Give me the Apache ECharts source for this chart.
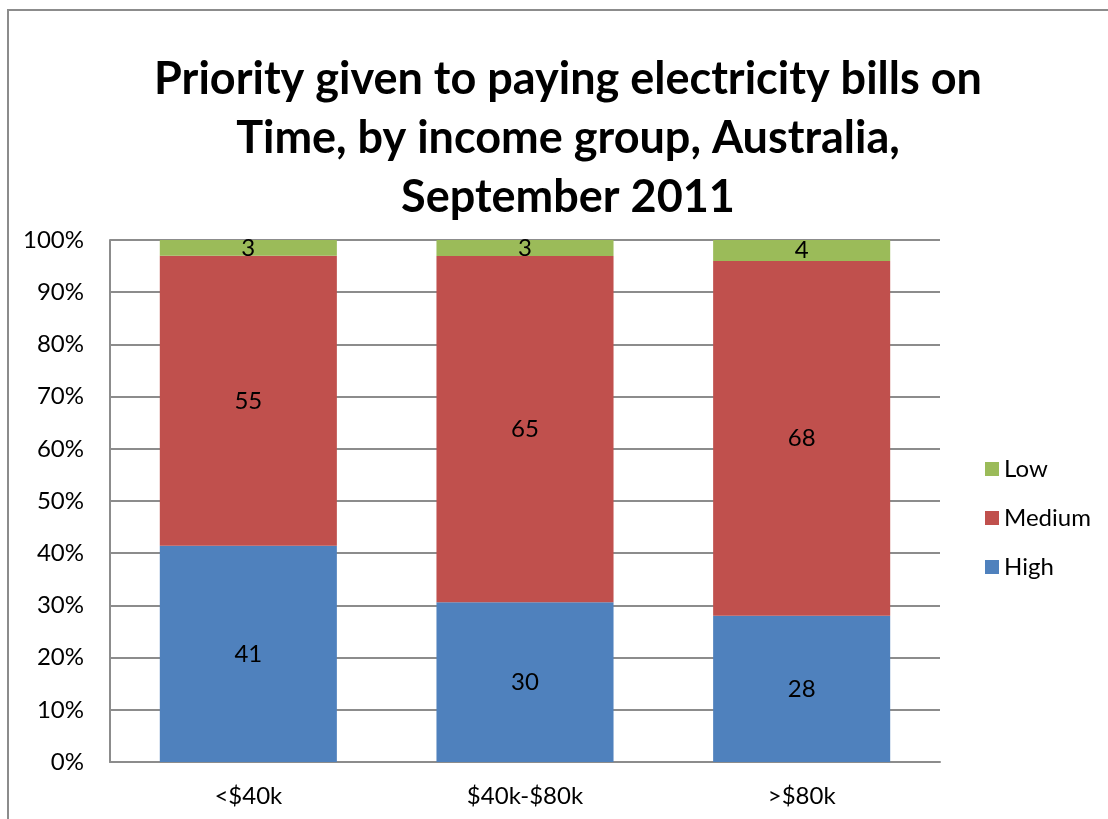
<!DOCTYPE html>
<html>
<head>
<meta charset="utf-8">
<script src="https://cdn.jsdelivr.net/npm/echarts@6/dist/echarts.min.js"></script>
<style>
  html, body { margin: 0; padding: 0; background: #fff; }
  #chart { width: 1108px; height: 819px; }
</style>
</head>
<body>
<div id="chart"></div>
<script>
// Income groups and survey responses (per cent of respondents)
const categories = ['<$40k', '$40k-$80k', '>$80k'];
const high = [41, 30, 28];
const medium = [55, 65, 68];
const low = [3, 3, 4];
const yTicks = ['0%', '10%', '20%', '30%', '40%', '50%', '60%', '70%', '80%', '90%', '100%'];

// 100% stacked: each column is scaled to its own total
const totals = categories.map((_, i) => high[i] + medium[i] + low[i]);
const share = arr => arr.map((v, i) => v / totals[i] * 100);

const FONT = 'Lato, "Open Sans", sans-serif';
const labelFont = { fontFamily: FONT, fontSize: 24, color: '#000' };

function seriesOf(name, raw, color) {
  return {
    name: name,
    type: 'bar',
    stack: 'total',
    barWidth: '64%',
    data: share(raw),
    itemStyle: { color: color },
    label: {
      show: true,
      position: 'inside',
      ...labelFont,
      formatter: p => String(raw[p.dataIndex])
    }
  };
}

const chart = echarts.init(document.getElementById('chart'), null, { renderer: 'canvas' });
chart.setOption({
  animation: false,
  backgroundColor: '#fff',
  graphic: [{
    type: 'rect',
    shape: { x: 8, y: 10, width: 1200, height: 900 },
    style: { fill: 'none', stroke: '#8c8c8c', lineWidth: 2 },
    z: -1
  }],
  title: {
    text: 'Priority given to paying electricity bills on\nTime, by income group, Australia,\nSeptember 2011',
    left: 563,
    textAlign: 'center',
    top: 45,
    textStyle: {
      fontFamily: FONT,
      fontWeight: 'bold',
      fontSize: 45,
      lineHeight: 59,
      color: '#000'
    }
  },
  legend: {
    orient: 'vertical',
    left: 980,
    top: 452,
    itemWidth: 14,
    itemHeight: 14,
    itemGap: 25,
    icon: 'rect',
    data: ['Low', 'Medium', 'High'],
    textStyle: { fontFamily: FONT, fontSize: 24, lineHeight: 24, color: '#000' }
  },
  grid: { left: 110, right: 168, top: 240, bottom: 57, containLabel: false },
  xAxis: {
    type: 'category',
    data: categories,
    axisLine: { lineStyle: { color: '#8c8c8c', width: 2 } },
    axisTick: { show: false },
    axisLabel: { ...labelFont, margin: 22 }
  },
  yAxis: {
    type: 'value',
    min: 0,
    max: 100,
    interval: 10,
    axisLine: { show: true, lineStyle: { color: '#8c8c8c', width: 2 } },
    axisTick: { show: false },
    splitLine: { lineStyle: { color: '#8c8c8c', width: 2 } },
    axisLabel: {
      ...labelFont,
      margin: 26,
      formatter: v => yTicks[Math.round(v / 10)]
    }
  },
  series: [
    seriesOf('High', high, '#4F81BD'),
    seriesOf('Medium', medium, '#C0504D'),
    seriesOf('Low', low, '#9BBB59')
  ]
});
</script>
</body>
</html>
